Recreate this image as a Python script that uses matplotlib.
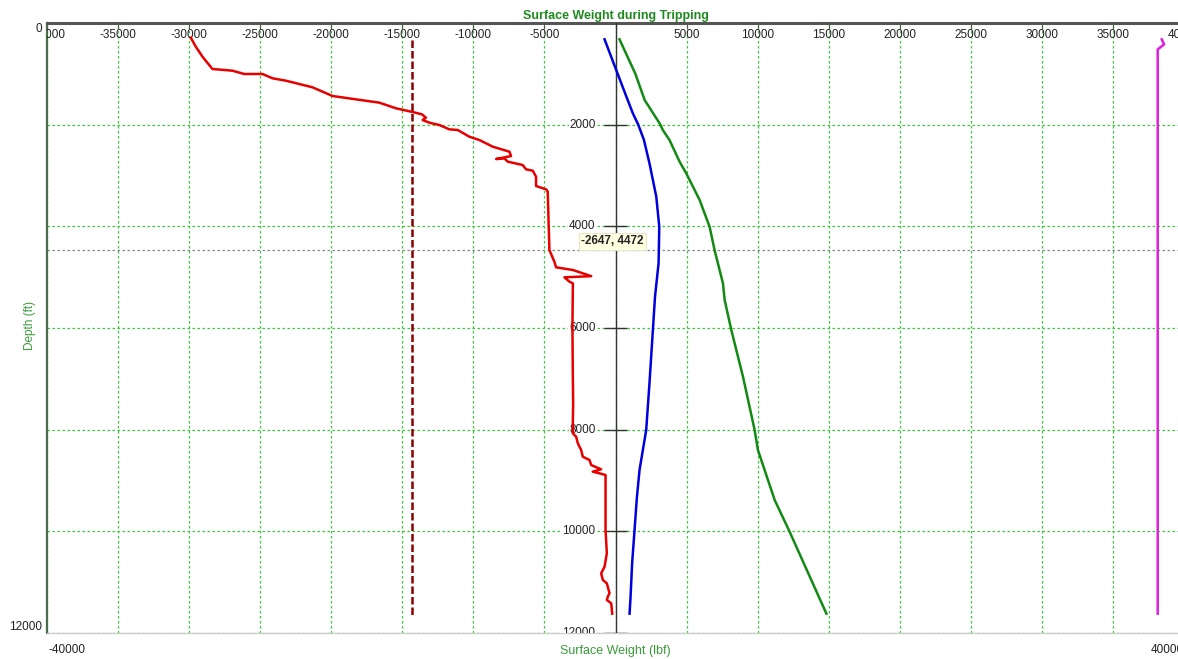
"""
Surface weight during tripping: weight (lbf) vs. depth (ft), depth increasing downward.
"""
import matplotlib
matplotlib.use("Agg")
import matplotlib.pyplot as plt

plt.rcParams["font.family"] = ["Liberation Sans", "DejaVu Sans"]

# --- data ------------------------------------------------------------------
red_x = [-29880, -29530, -29060, -28360, -26950, -26130, -24840, -24130, -23190,
         -22250, -21320, -19910, -18260, -16620, -15440, -14270, -13620, -13340,
         -13570, -13100, -12390, -11690, -11100, -10280, -9580, -8870, -8640,
         -7460, -7350, -8400, -7820, -7580, -6530, -6290, -5820, -5590, -5590,
         -4880, -4770, -4650, -4600, -4300, -4180, -3000, -1710, -3590, -3240,
         -3000, -3030, -3000, -2980, -3000, -3000, -2770, -2650, -2420, -2300,
         -1830, -1710, -1010, -1600, -1130, -700, -700, -610, -770, -1010, -890,
         -610, -420, -540, -610, -300, -230]
red_d = [290, 466, 663, 905, 938, 1003, 1003, 1088, 1135,
         1200, 1265, 1436, 1502, 1567, 1679, 1751, 1797, 1862,
         1908, 1961, 2007, 2092, 2105, 2237, 2302, 2400, 2433,
         2532, 2617, 2676, 2663, 2728, 2794, 2879, 2906, 3023, 3207,
         3273, 3318, 4466, 4499, 4696, 4806, 4859, 4980, 5003, 5089,
         5121, 6000, 7000, 7500, 7810, 8073, 8138, 8269, 8400, 8532,
         8597, 8696, 8780, 8826, 8859, 8892, 9974, 10432, 10696, 10826, 10957,
         11023, 11219, 11285, 11351, 11416, 11620]

blue_x = [-770, 50, 700, 1220, 1600, 2000, 2390, 2870, 3080, 3050, 3030, 2780,
          2630, 2390, 2160, 1690, 1500, 1340, 1170, 1060, 990]
blue_d = [321, 925, 1400, 1777, 2000, 2300, 2760, 3417, 4007, 4466, 4728, 5384,
          6040, 7088, 8007, 8794, 9350, 9974, 10629, 11285, 11620]

green_x = [280, 1400, 2050, 3100, 3330, 3800, 4510, 4980, 5920, 6620, 6970,
           7560, 7680, 8150, 8970, 9790, 10020, 11200, 12250, 14840]
green_d = [321, 1000, 1515, 1973, 2105, 2302, 2729, 2958, 3482, 4007, 4466,
           5121, 5449, 6040, 6958, 8007, 8400, 9384, 10007, 11620]

magenta_x = [38430, 38600, 38150, 38150]
magenta_d = [321, 420, 520, 11620]

limit_x = [-14320, -14320]
limit_d = [330, 11640]

cursor_x, cursor_d = -2647, 4472

x_ticks = list(range(-40000, 40001, 5000))
depth_ticks = list(range(0, 12001, 2000))
x_min, x_max = -40000, 40000
d_min, d_max = 0, 12000

grid_green = "#3cc83c"
label_green = "#3a9a3a"
title_green = "#1f8a1f"

fig = plt.figure(figsize=(11.78, 6.59), dpi=100)
ax = fig.add_axes([47 / 1178, 26 / 659, 1137 / 1178, 610 / 659])

ax.set_xlim(x_min, x_max)
ax.set_ylim(d_max, d_min)

# grid
ax.set_xticks(x_ticks)
ax.set_yticks(depth_ticks)
ax.set_xticklabels([])
ax.set_yticklabels([])
ax.grid(True, color=grid_green, linestyle=(0, (2, 2)), linewidth=0.9)
ax.tick_params(axis="x", top=True, bottom=False, direction="in",
               length=4, color="#555555")
ax.tick_params(axis="y", left=False, length=0)

ax.spines["right"].set_visible(False)
ax.spines["top"].set_color("#555555")
ax.spines["top"].set_linewidth(2.2)
ax.spines["left"].set_color("#4d6b4d")
ax.spines["left"].set_linewidth(1.6)
ax.spines["bottom"].set_color("#cccccc")
ax.spines["bottom"].set_linewidth(1.0)

# top tick labels drawn inside the plot, clipped at the edges
for xv in x_ticks:
    if xv == 0:
        continue
    ax.annotate(str(xv), (xv, d_min), xytext=(0, -6), textcoords="offset pixels",
                ha="center", va="top", fontsize=8.5, color="#222222",
                clip_on=True, annotation_clip=False)

# centre depth axis with cross ticks
ax.axvline(0, color="#333333", linewidth=1.0, zorder=3)
ax.hlines(depth_ticks[1:], -820, 820, color="#333333", linewidth=1.0, zorder=3)
for d in depth_ticks[1:]:
    t = ax.annotate(str(d), (0, d), xytext=(-20, 0), textcoords="offset pixels",
                    ha="right", va="center", fontsize=8.5, color="#222222",
                    annotation_clip=False, zorder=3,
                    bbox=dict(boxstyle="square,pad=0.05", facecolor="white",
                              edgecolor="none"))
    t.set_clip_box(ax.bbox)
    t.set_clip_on(True)

# cursor crosshair and tooltip
ax.axhline(cursor_d, color="#888888", linestyle=(0, (2, 2)), linewidth=0.9, zorder=2)

# series
ax.plot(limit_x, limit_d, color="#8b0000", linewidth=1.8, dashes=(3, 1.2), zorder=4)
ax.plot(red_x, red_d, color="#e60000", linewidth=1.8, zorder=4)
ax.plot(blue_x, blue_d, color="#0000dd", linewidth=1.8, zorder=4)
ax.plot(green_x, green_d, color="#138a13", linewidth=1.8, zorder=4)
ax.plot(magenta_x, magenta_d, color="#e01ee0", linewidth=1.8, zorder=4)

ax.annotate(f"{cursor_x}, {cursor_d}", (cursor_x, cursor_d), xytext=(3, 3),
            textcoords="offset pixels", ha="left", va="bottom", fontsize=8.5,
            fontweight="bold", color="#222222", zorder=6,
            bbox=dict(boxstyle="square,pad=0.2", facecolor="#ffffe1",
                      edgecolor="#e6e6c8", linewidth=0.8))

# outer labels
ax.text(-0.004, 1.0, str(d_min), transform=ax.transAxes, ha="right", va="top",
        fontsize=8.5, color="#222222")
ax.text(-0.004, 0.0, str(d_max), transform=ax.transAxes, ha="right", va="bottom",
        fontsize=8.5, color="#222222")
ax.text(0.0015, -0.028, str(x_min), transform=ax.transAxes, ha="left", va="center",
        fontsize=8.5, color="#222222")
ax.text(1.0, -0.028, str(x_max), transform=ax.transAxes, ha="right", va="center",
        fontsize=8.5, color="#222222")
ax.text(0.5, -0.029, "Surface Weight (lbf)", transform=ax.transAxes, ha="center",
        va="center", fontsize=9, color=label_green)
fig.text(30 / 1178, 1 - 325 / 659, "Depth (ft)", rotation=90, ha="center",
         va="center", fontsize=8.5, color=label_green)
ax.set_title("Surface Weight during Tripping", fontsize=9, fontweight="bold",
             color=title_green, pad=3)

fig.savefig("out.png", dpi=100)
